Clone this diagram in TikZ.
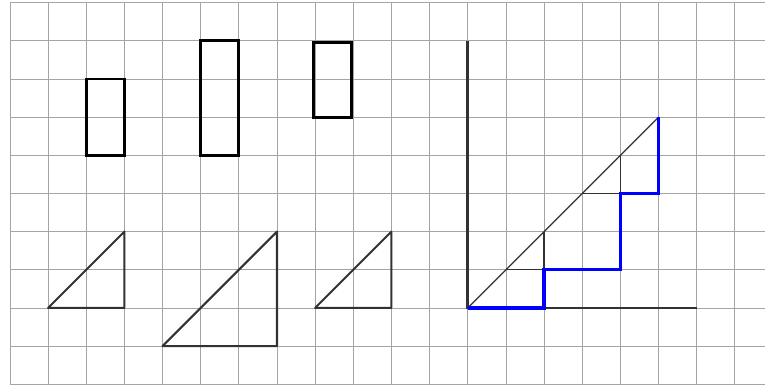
\documentclass[tikz,border=0pt]{standalone}
\usepackage{xcolor}
\usepackage{tikz}
\usetikzlibrary{calc}

\definecolor{gridgray}{RGB}{165,165,165}
\definecolor{axisgray}{RGB}{50,50,50}

\begin{document}
\begin{tikzpicture}[
    gridline/.style={draw=gridgray, line width=0.6pt},
    boxshape/.style={draw=black, line width=2.2pt},
    triangshape/.style={draw=axisgray, line width=1.5pt, line join=round},
    axisline/.style={draw=axisgray, line width=2pt},
    stairline/.style={draw=blue, line width=2.6pt, line join=miter},
    thinline/.style={draw=axisgray, line width=0.9pt}]

    \useasboundingbox (-0.26,-0.02) rectangle (19.79,10.07);

    % squared paper
    \foreach \x in {0,...,19}
        \draw[gridline] (\x,0) -- (\x,10);
    \foreach \y in {0,...,10}
        \draw[gridline] (0,\y) -- (19.79,\y);

    % upright boxes
    \draw[boxshape] (2,6) rectangle (3,8);
    \draw[boxshape] (5,6) rectangle (6,9);
    \draw[boxshape] (7.95,6.98) rectangle (8.96,8.95);

    % right triangles
    \draw[triangshape] (1,2) -- (3,2) -- (3,4) -- cycle;
    \draw[triangshape] (4,1) -- (7,1) -- (7,4) -- cycle;
    \draw[triangshape] (8,2) -- (10,2) -- (10,4) -- cycle;

    % axes
    \coordinate (o) at (12,2);
    \coordinate (top) at (12,9);
    \coordinate (xend) at (18,2);
    \coordinate (peak) at (17,7);
    \draw[axisline] (top) -- (o) -- (xend);

    % diagonal and small steps
    \draw[thinline] (o) -- (peak);
    \draw[thinline] (13,3) -- (14,3) -- (14,4);
    \draw[thinline] (15,5) -- (16,5) -- (16,6);

    % staircase
    \draw[stairline] (o) -- (14,2) -- (14,3) -- (16,3) -- (16,5) -- (17,5) -- (peak);

\end{tikzpicture}
\end{document}
